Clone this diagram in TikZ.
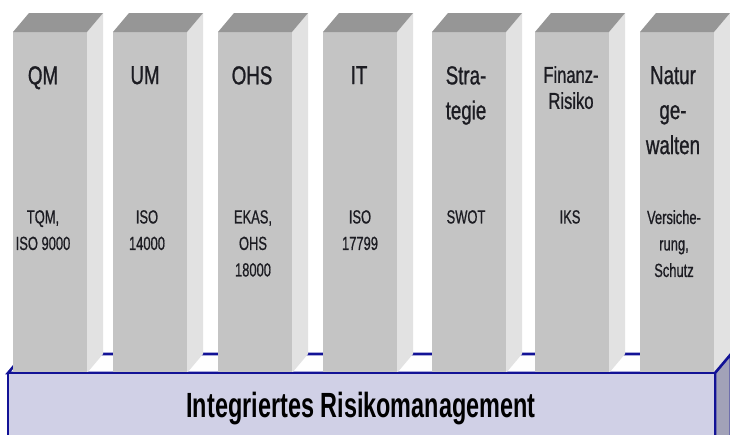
\documentclass[tikz,border=0pt]{standalone}
\usepackage{fontspec}
\setmainfont{Liberation Sans}
\newfontfamily\headfont[FakeStretch=0.72,FakeBold=0.9]{Liberation Sans}
\newfontfamily\normfont[FakeStretch=0.68,FakeBold=0.7]{Liberation Sans}
\newfontfamily\basefont[FakeStretch=0.67]{Liberation Sans}
\definecolor{pfront}{RGB}{196,196,196}
\definecolor{pside}{RGB}{226,226,226}
\definecolor{ptop}{RGB}{150,150,150}
\definecolor{basefill}{RGB}{208,208,230}
\definecolor{baseside}{RGB}{162,162,184}
\definecolor{baseedge}{RGB}{18,18,150}
\definecolor{ink}{RGB}{28,28,34}
\tikzset{
  frontface/.style={fill=pfront},
  sideface/.style={fill=pside},
  topface/.style={fill=ptop},
  baseedgeline/.style={draw=baseedge, line width=2.6pt, line join=miter},
  pillartitle/.style={anchor=north, inner sep=0pt, align=center, text=ink,
    font=\headfont\fontsize{26}{35}\selectfont},
  pillarnorm/.style={anchor=north, inner sep=0pt, align=center, text=ink,
    font=\normfont\fontsize{19}{26.5}\selectfont},
}
\begin{document}
\begin{tikzpicture}[x=1pt,y=-1pt]
\useasboundingbox (0,0) rectangle (730,434);
\clip (0,0) rectangle (730,434);
\fill[white] (0,0) rectangle (730,434);
% top face of the base, seen between the pillars
\filldraw[fill=white!95!pside, baseedgeline] (8,373) -- (24,354) -- (731,354) -- (715,373) -- cycle;
% the seven pillars
\foreach \l in {13,113,218,323,432,535,640} {
  \fill[frontface] (\l,32) rectangle (\l+74,373);
  \fill[sideface] (\l+74,32) -- (\l+90,13) -- (\l+90,354) -- (\l+74,373) -- cycle;
  \fill[topface] (\l,32) -- (\l+16,13) -- (\l+90,13) -- (\l+74,32) -- cycle;
}
% front and right faces of the base
\filldraw[fill=baseside, baseedgeline] (715,373) -- (731,354) -- (731,460) -- (715,460) -- cycle;
\filldraw[fill=basefill, baseedgeline] (8,373) rectangle (715,460);
\node[text=black, font=\basefont\bfseries\fontsize{35}{35}\selectfont] (base) at (361,409) {Integriertes Risikomanagement};
% pillar headings
\node[pillartitle] (qm)  at (43,66)  {QM};
\node[pillartitle] (um)  at (145,66) {UM};
\node[pillartitle] (ohs) at (252,66) {OHS};
\node[pillartitle] (it)  at (359,66) {IT};
\node[pillartitle] (str) at (466,66) {Stra-\\tegie};
\node[pillartitle, font=\headfont\fontsize{23}{26}\selectfont] (fin) at (571,66) {Finanz-\\Risiko};
\node[pillartitle] (nat) at (673,66) {Natur\\ge-\\walten};
% standards and methods per pillar
\node[pillarnorm] (qmn)  at (43,210)  {TQM,\\ISO 9000};
\node[pillarnorm] (umn)  at (147,210) {ISO\\14000};
\node[pillarnorm] (ohsn) at (253,210) {EKAS,\\OHS\\18000};
\node[pillarnorm] (itn)  at (360,210) {ISO\\17799};
\node[pillarnorm] (strn) at (466,210) {SWOT};
\node[pillarnorm] (finn) at (570,210) {IKS};
\node[pillarnorm] (natn) at (674,210) {Versiche-\\rung,\\Schutz};
\end{tikzpicture}
\end{document}
